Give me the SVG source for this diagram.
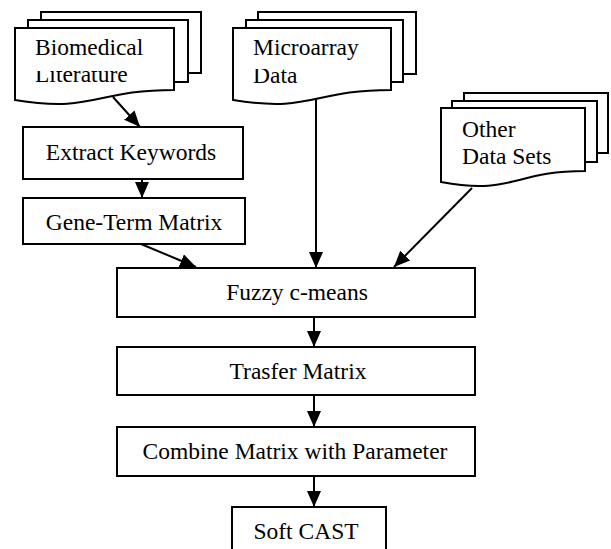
<svg xmlns="http://www.w3.org/2000/svg" width="611" height="549" viewBox="0 0 611 549">
<style>
.s{fill:#fff;stroke:#000;stroke-width:2}
.t{font-family:"Liberation Serif","Times New Roman",serif;font-size:23.5px;fill:#000}
.m{text-anchor:middle}
.c{stroke:#000;stroke-width:2;fill:none;marker-end:url(#ah)}
</style>
<defs>
<marker id="ah" markerUnits="userSpaceOnUse" markerWidth="17" markerHeight="15" refX="16" refY="7" orient="auto" viewBox="0 0 17 15">
<path d="M0,0 L16,7 L0,14 z" fill="#000"/>
</marker>
<clipPath id="cl1"><rect x="0" y="71" width="611" height="40"/></clipPath>
<clipPath id="cl2"><rect x="0" y="69" width="611" height="40"/></clipPath>
</defs>
<g id="biomedical">
<rect class="s" x="41" y="12" width="160" height="61"/>
<rect class="s" x="28" y="20" width="160" height="62"/>
<path class="s" d="M15,28 H174 V90 C94.5,90 94.5,113 15,100 Z"/>
<text class="t" x="35" y="55">Biomedical</text>
<text class="t" x="35" y="82" clip-path="url(#cl1)">Literature</text>
</g>
<g id="microarray">
<rect class="s" x="258" y="12" width="158" height="62"/>
<rect class="s" x="246" y="20" width="157" height="62"/>
<path class="s" d="M233,28 H391 V90 C312,90 312,113 233,100 Z"/>
<text class="t" x="253" y="55">Microarray</text>
<text class="t" x="253" y="83" clip-path="url(#cl2)">Data</text>
</g>
<g id="other">
<rect class="s" x="464" y="93" width="144" height="60"/>
<rect class="s" x="452" y="101" width="145" height="61"/>
<path class="s" d="M441,108 H585 V171 C513,171 513,195.5 441,182 Z"/>
<text class="t" x="462" y="137">Other</text>
<text class="t" x="462" y="164">Data Sets</text>
</g>
<g id="extract">
<rect class="s" x="23" y="127" width="220" height="52"/>
<text class="t m" x="131" y="160">Extract Keywords</text>
</g>
<g id="geneterm">
<rect class="s" x="23" y="198" width="222" height="46"/>
<text class="t m" x="134" y="230">Gene-Term Matrix</text>
</g>
<g id="fuzzy">
<rect class="s" x="117" y="268" width="358" height="49"/>
<text class="t m" x="297" y="300">Fuzzy c-means</text>
</g>
<g id="trasfer">
<rect class="s" x="117" y="347" width="358" height="48"/>
<text class="t m" x="298" y="379">Trasfer Matrix</text>
</g>
<g id="combine">
<rect class="s" x="117" y="427" width="358" height="49"/>
<text class="t m" x="295" y="459">Combine Matrix with Parameter</text>
</g>
<g id="softcast">
<rect class="s" x="232" y="507" width="154" height="60"/>
<text class="t m" x="306" y="539">Soft CAST</text>
</g>
<g id="connectors">
<line class="c" x1="113" y1="97" x2="140" y2="127"/>
<line class="c" x1="142" y1="179" x2="142" y2="198"/>
<line class="c" x1="141" y1="244" x2="196" y2="267"/>
<line class="c" x1="316" y1="99" x2="316" y2="268"/>
<line class="c" x1="472" y1="188" x2="394" y2="267"/>
<line class="c" x1="314" y1="317" x2="314" y2="347"/>
<line class="c" x1="314" y1="395" x2="314" y2="427"/>
<line class="c" x1="314" y1="476" x2="314" y2="507"/>
</g>
</svg>
